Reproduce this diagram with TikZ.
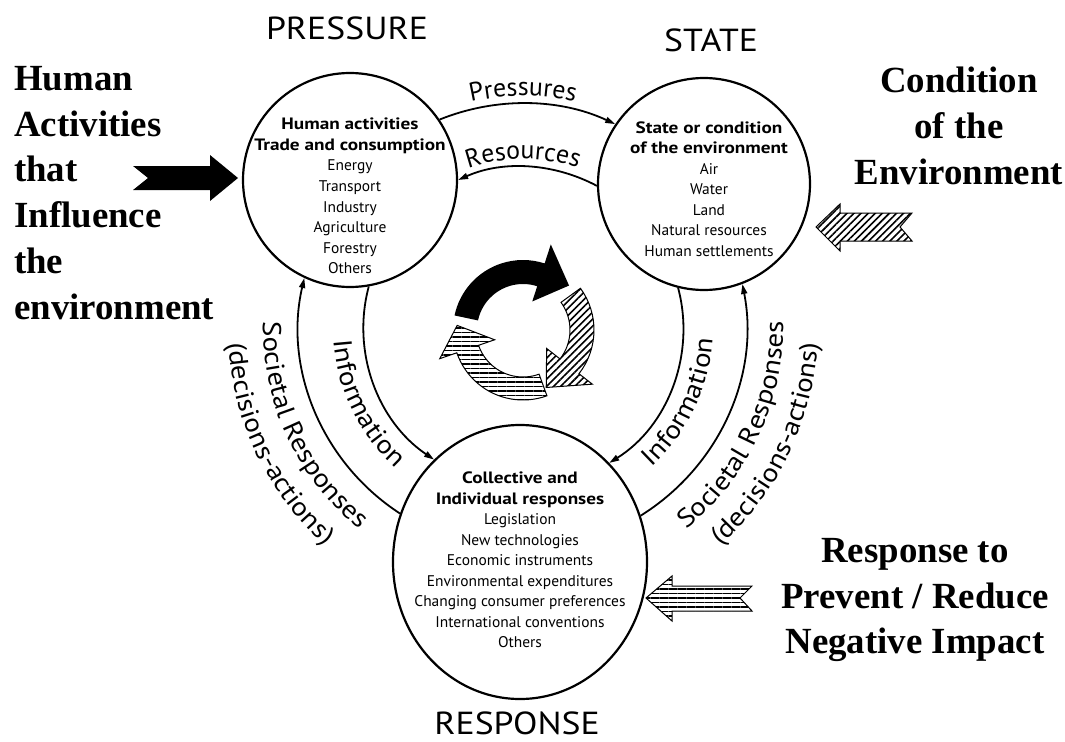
\documentclass[tikz,border=0pt]{standalone}
\usepackage{fontspec}
\setmainfont{Liberation Serif}
\setsansfont{PT Sans}
\newfontfamily\headsf[FakeStretch=1.12]{PT Sans}
\newfontfamily\boxsf[FakeStretch=1.17]{PT Sans}
\newfontfamily\sidesf[FakeStretch=1.12]{PT Sans}
\usetikzlibrary{arrows.meta,shapes.geometric,decorations.text,patterns.meta}
\newcommand\toplab{\sffamily\fontsize{26}{26}\selectfont}
\newcommand\sidelab{\sidesf\fontsize{26}{26}\selectfont}
\newcommand\bxhead{\boxsf\bfseries\fontsize{16.5}{20.6}\selectfont}
\begin{document}
\begin{tikzpicture}[x=1bp,y=1bp,
  circ/.style={circle,draw,line width=2.2bp,inner sep=0pt},
  conn/.style={line width=1.8bp,-{Triangle[length=10bp,width=6bp]}},
  head/.style={font=\headsf\fontsize{32}{32}\selectfont},
  serif/.style={font=\bfseries\fontsize{37}{46}\selectfont,inner sep=0pt},
  intext/.style={font=\sffamily\fontsize{15.5}{20.6}\selectfont,align=center,inner sep=0pt},
  hatchd/.style={draw,line width=1bp,pattern={Lines[angle=45,distance=5bp,line width=1.6bp]}},
  hatchh/.style={draw,line width=1bp,pattern={Lines[angle=0,distance=4.5bp,line width=1.8bp]}},
  arctext/.style={decorate,decoration={text along path,text align=center,text={#1}}}
]
\fill[white] (0,0) rectangle (1065,-742);
\useasboundingbox (0,0) rectangle (1065,-742);

\coordinate (C) at (523,-327);
\coordinate (O) at (523,-330);

% headings
\node[head] (hp) at (347,-28) {PRESSURE};
\node[head] (hs) at (711,-40) {STATE};
\node[head] (hr) at (517,-723) {RESPONSE};

% circles
\node[circ,minimum size=214bp] (P) at (350,-180) {};
\node[circ,minimum size=212bp] (S) at (704,-184) {};
\node[ellipse,draw,line width=2.2bp,inner sep=0pt,minimum width=254bp,minimum height=274bp] (R) at (520,-562) {};

\node[intext] (Pt) at (350,-196) {{\bxhead Human activities}\\{\bxhead Trade and consumption}\\Energy\\Transport\\Industry\\Agriculture\\Forestry\\Others};
\node[intext] (St) at (709,-189) {{\bxhead State or condition}\\{\bxhead of the environment}\\Air\\Water\\Land\\Natural resources\\Human settlements};
\node[intext] (Rt) at (520,-560) {{\bxhead Collective and}\\{\bxhead Individual responses}\\Legislation\\New technologies\\Economic instruments\\Environmental expenditures\\Changing consumer preferences\\International conventions\\Others};

% connectors
\draw[conn] (P.34) to[out=22,in=155,looseness=0.89] (S.146);
\draw[conn] (S.181) to[out=152,in=24,looseness=0.9] (P.0);
\draw[conn] (R.158) to[out=147,in=257,looseness=0.94] (P.245);
\draw[conn] (P.280) to[out=255,in=146,looseness=0.94] (R.130);
\draw[conn] (S.256) to[out=-75,in=32,looseness=0.94] (R.48);
\draw[conn] (R.21) to[out=32,in=-79,looseness=0.94] (S.-69);

% arc labels
\path[arctext={|\toplab|Pressures}] ([shift={(C)}]110:231) arc[start angle=110,end angle=70,radius=231];
\path[arctext={|\toplab|Resources}] ([shift={(C)}]115:168) arc[start angle=115,end angle=65,radius=168];
\path[arctext={|\sidelab|Information}] ([shift={(C)}]160:190) arc[start angle=160,end angle=252,radius=190];
\path[arctext={|\sidelab|Societal Responses}] ([shift={(C)}]160:260) arc[start angle=160,end angle=250,radius=260];
\path[arctext={|\sidelab|(decisions-actions)}] ([shift={(C)}]160:295) arc[start angle=160,end angle=251,radius=295];
\path[arctext={|\sidelab|Information}] ([shift={(C)}]-71:190) arc[start angle=-71,end angle=20,radius=190];
\path[arctext={|\sidelab|Societal Responses}] ([shift={(C)}]-70:260) arc[start angle=-70,end angle=20,radius=260];
\path[arctext={|\sidelab|(decisions-actions)}] ([shift={(C)}]-71:295) arc[start angle=-71,end angle=20,radius=295];

% central cycle arrows
\fill[black] ([shift={(O)}]168:70) arc[start angle=168,end angle=72,radius=70] -- ([shift={(O)}]72:90) -- ([shift={(O)}]44:64) -- ([shift={(O)}]72:30) -- ([shift={(O)}]72:46) arc[start angle=72,end angle=168,radius=46] -- cycle;
\path[hatchd] ([shift={(O)}]36:71) arc[start angle=36,end angle=-38,radius=71] -- ([shift={(O)}]-38:88) -- ([shift={(O)}]-68:62) -- ([shift={(O)}]-38:30) -- ([shift={(O)}]-38:47) arc[start angle=-38,end angle=36,radius=47] -- cycle;
\path[hatchh] ([shift={(O)}]-70:70) arc[start angle=-70,end angle=-161,radius=70] -- ([shift={(O)}]-161:88) -- ([shift={(O)}]-184:66) -- ([shift={(O)}]-161:30) -- ([shift={(O)}]-161:47) arc[start angle=-161,end angle=-70,radius=47] -- cycle;

% side arrows
\fill[black] (133,-166) -- (210,-166) -- (210,-155) -- (238,-178) -- (210,-201) -- (210,-190) -- (133,-190) -- (148,-178) -- cycle;
\path[hatchd] (816,-227) -- (840,-204) -- (840,-213) -- (912,-213) -- (900,-227) -- (912,-241) -- (840,-241) -- (840,-251) -- cycle;
\path[hatchh] (646,-598) -- (672,-576) -- (672,-586) -- (752,-586) -- (740,-598) -- (752,-611) -- (672,-611) -- (672,-621) -- cycle;

% side texts
\node[serif,align=left,anchor=west] (lt) at (14,-193) {Human\\Activities\\that\\Influence\\the\\environment};
\node[serif,align=center] (rt) at (959,-126) {Condition\\of the\\Environment};
\node[serif,align=center] (rb) at (915,-600) {Response to\\Prevent / Reduce\\Negative Impact};
\end{tikzpicture}
\end{document}
